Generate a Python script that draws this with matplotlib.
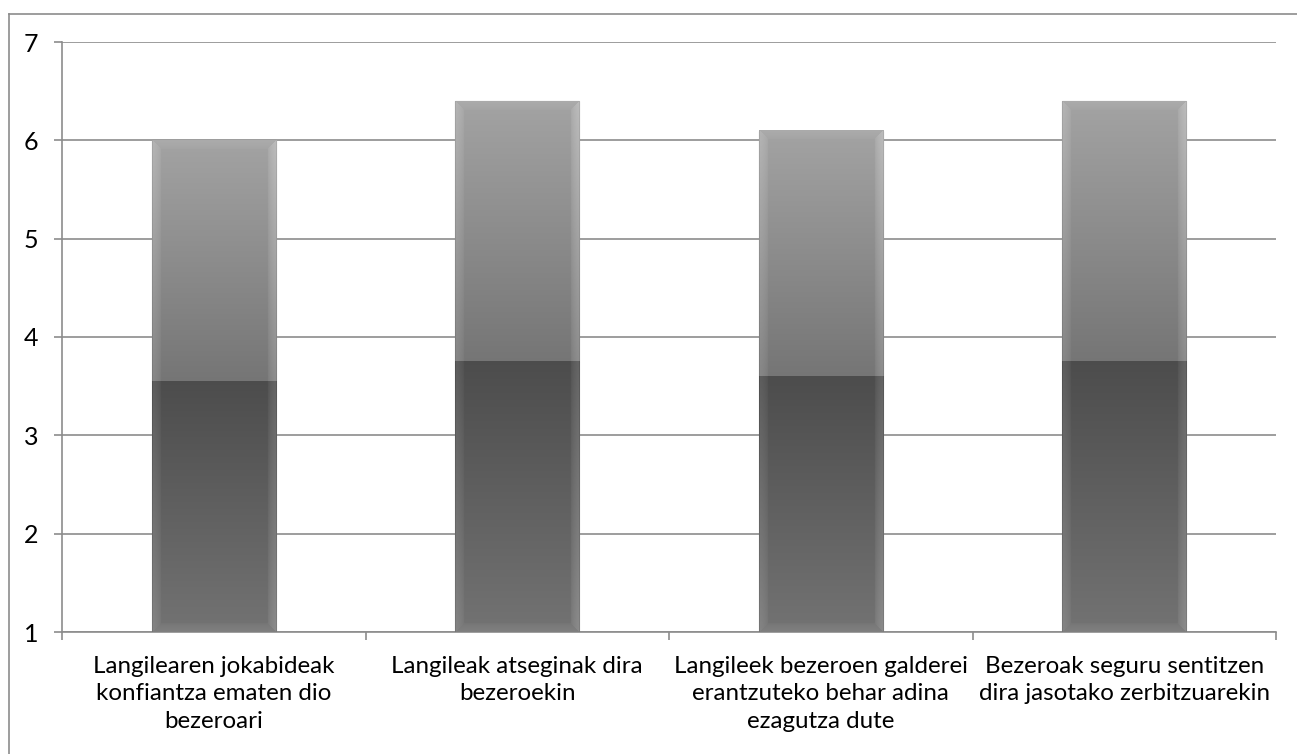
import numpy as np
import matplotlib
matplotlib.use("Agg")
import matplotlib.pyplot as plt
from matplotlib.lines import Line2D

plt.rcParams['font.family'] = ['Lato', 'DejaVu Sans']

categories = [
    "Langilearen jokabideak\nkonfiantza ematen dio\nbezeroari",
    "Langileak atseginak dira\nbezeroekin",
    "Langileek bezeroen galderei\nerantzuteko behar adina\nezagutza dute",
    "Bezeroak seguru sentitzen\ndira jasotako zerbitzuarekin",
]
lower_values = [3.55, 3.75, 3.6, 3.75]
upper_values = [2.45, 2.65, 2.5, 2.65]
y_ticks = [1, 2, 3, 4, 5, 6, 7]

W, H = 1297, 754
fig = plt.figure(figsize=(W / 100, H / 100), dpi=100)
ax = fig.add_axes([62 / W, 1 - 632 / H, (1276 - 62) / W, (632 - 42) / H])

x = np.arange(len(categories))
bar_w = 0.41
lower = ax.bar(x, lower_values, width=bar_w, color="#5a5a5a", zorder=2,
               edgecolor="#8a8a8a", linewidth=0.8)
upper = ax.bar(x, upper_values, width=bar_w, bottom=lower_values, color="#8a8a8a",
               zorder=2, edgecolor="#8a8a8a", linewidth=0.8)

ax.set_xlim(-0.5, len(categories) - 0.5)
ax.set_ylim(1, 7)


def bevel_image(top_gray, bottom_gray, ncols, nrows, bevel_px, top_bevel, bottom_bevel):
    rows = np.linspace(0, 1, nrows)[:, None]
    base = top_gray + (bottom_gray - top_gray) * rows
    img = np.repeat(base, ncols, axis=1)
    cols = np.arange(ncols)[None, :]
    r = np.arange(nrows)[:, None]
    dl = np.broadcast_to(cols, (nrows, ncols)).astype(float)
    dr = np.broadcast_to(ncols - 1 - cols, (nrows, ncols)).astype(float)
    dt = np.broadcast_to(r, (nrows, ncols)).astype(float) if top_bevel else np.full((nrows, ncols), 1e9)
    db = np.broadcast_to(nrows - 1 - r, (nrows, ncols)).astype(float) if bottom_bevel else np.full((nrows, ncols), 1e9)
    d = np.stack([dl, dr, dt, db])
    side = np.argmin(d, axis=0)
    dmin = np.min(d, axis=0)
    # soft falloff of the bevel highlight towards the bar interior
    fall = np.clip(1.0 - dmin / bevel_px, 0, 1) ** 0.5
    light = np.array([0.07, 0.10, 0.03, 0.05])
    img = img + light[side] * fall
    rim = dmin < 1.0
    img = np.where(rim & (side < 2), img - 0.06, img)
    img = np.clip(img, 0, 1)
    return np.dstack([img, img, img])


px_per_unit = 590 / 6.0
for lo, up in zip(lower, upper):
    for patch, tg, bg, tb, bb in ((up, 0.64, 0.46, True, False),
                                  (lo, 0.30, 0.45, False, True)):
        x0, w = patch.get_x(), patch.get_width()
        y0, h = patch.get_y(), patch.get_height()
        y_vis = max(y0, 1.0)
        nrows = max(int((y0 + h - y_vis) * px_per_unit), 2)
        img = bevel_image(tg, bg, 124, nrows, 9, tb, bb)
        ax.imshow(img, extent=(x0, x0 + w, y_vis, y0 + h), aspect="auto",
                  interpolation="bilinear", zorder=3, origin="upper")

ax.set_xlim(-0.5, len(categories) - 0.5)
ax.set_ylim(1, 7)

ax.set_yticks(y_ticks)
ax.set_yticklabels([str(v) for v in y_ticks], fontsize=18)
ax.tick_params(axis="y", length=6, width=1.2, color="#8c8c8c", pad=11)
ax.yaxis.grid(True, color="#8c8c8c", linewidth=1.2, zorder=0)
ax.set_axisbelow(True)

ax.set_xticks(x)
ax.set_xticklabels(categories, fontsize=17.4, linespacing=1.38)
ax.tick_params(axis="x", which="major", length=0, pad=17)
ax.set_xticks(np.arange(-0.5, len(categories), 1.0), minor=True)
ax.tick_params(axis="x", which="minor", length=6, width=1.2, color="#8c8c8c")

for s in ("top", "right"):
    ax.spines[s].set_visible(False)
for s in ("left", "bottom"):
    ax.spines[s].set_color("#8c8c8c")
    ax.spines[s].set_linewidth(1.2)

# outer frame
fx, fy = 8.5 / W, 1 - 13.5 / H
fig.add_artist(Line2D([fx, fx], [-0.01, fy], transform=fig.transFigure,
                      color="#8c8c8c", linewidth=1.2))
fig.add_artist(Line2D([fx, 1.01], [fy, fy], transform=fig.transFigure,
                      color="#8c8c8c", linewidth=1.2))

fig.savefig("out.png", dpi=100)
